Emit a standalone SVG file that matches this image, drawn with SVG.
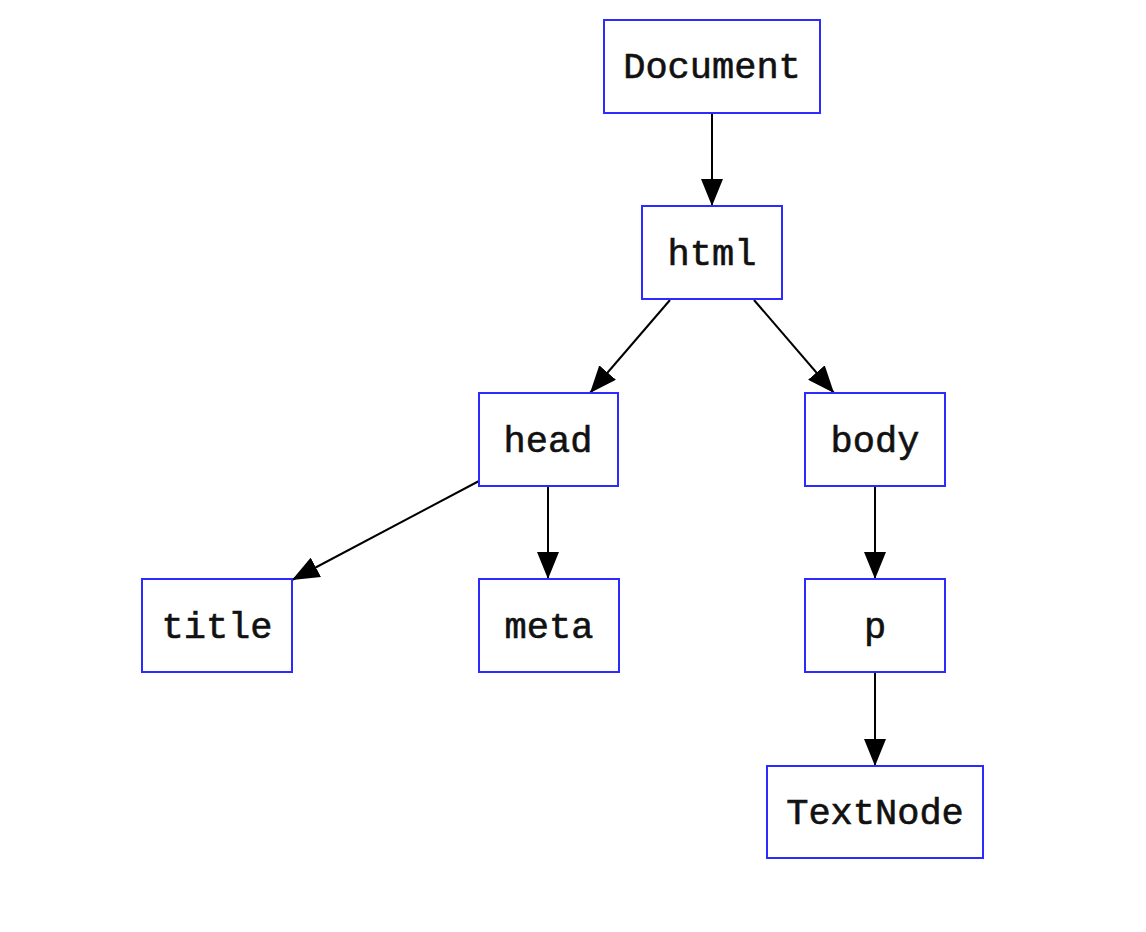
<svg xmlns="http://www.w3.org/2000/svg" width="1146" height="932" viewBox="0 0 1146 932">
<style>
.box{fill:#fff;stroke:#2b2bff;stroke-width:2}
.lbl{font-family:"Liberation Mono","Courier New",monospace;font-size:37px;fill:#111;stroke:#111;stroke-width:0.6;text-anchor:middle}
.edge{stroke:#000;stroke-width:2;fill:none}
</style>
<defs>
<marker id="arr" markerWidth="28" markerHeight="22" refX="27" refY="11" orient="auto" markerUnits="userSpaceOnUse">
<path d="M0,0 L27,11 L0,22 Z" fill="#000"/>
</marker>
</defs>
<rect width="1146" height="932" fill="#fff"/>
<g id="connectors">
<line class="edge" x1="712" y1="113" x2="712" y2="206" marker-end="url(#arr)"/>
<line class="edge" x1="670" y1="300" x2="590" y2="393" marker-end="url(#arr)"/>
<line class="edge" x1="754" y1="300" x2="834" y2="393" marker-end="url(#arr)"/>
<line class="edge" x1="479" y1="481" x2="292" y2="580" marker-end="url(#arr)"/>
<line class="edge" x1="548" y1="486" x2="548" y2="579" marker-end="url(#arr)"/>
<line class="edge" x1="875" y1="486" x2="875" y2="579" marker-end="url(#arr)"/>
<line class="edge" x1="875" y1="672" x2="875" y2="766" marker-end="url(#arr)"/>
</g>
<g id="node-document"><rect class="box" x="604" y="20" width="216" height="93"/><text class="lbl" x="712" y="78">Document</text></g>
<g id="node-html"><rect class="box" x="642" y="206" width="140" height="93"/><text class="lbl" x="712" y="265">html</text></g>
<g id="node-head"><rect class="box" x="479" y="393" width="139" height="93"/><text class="lbl" x="548" y="452">head</text></g>
<g id="node-body"><rect class="box" x="805" y="393" width="140" height="93"/><text class="lbl" x="875" y="452">body</text></g>
<g id="node-title"><rect class="box" x="142" y="579" width="150" height="93"/><text class="lbl" x="217" y="638">title</text></g>
<g id="node-meta"><rect class="box" x="479" y="579" width="140" height="93"/><text class="lbl" x="549" y="638">meta</text></g>
<g id="node-p"><rect class="box" x="805" y="579" width="140" height="93"/><text class="lbl" x="875" y="638">p</text></g>
<g id="node-textnode"><rect class="box" x="767" y="766" width="216" height="92"/><text class="lbl" x="875" y="824">TextNode</text></g>
</svg>
